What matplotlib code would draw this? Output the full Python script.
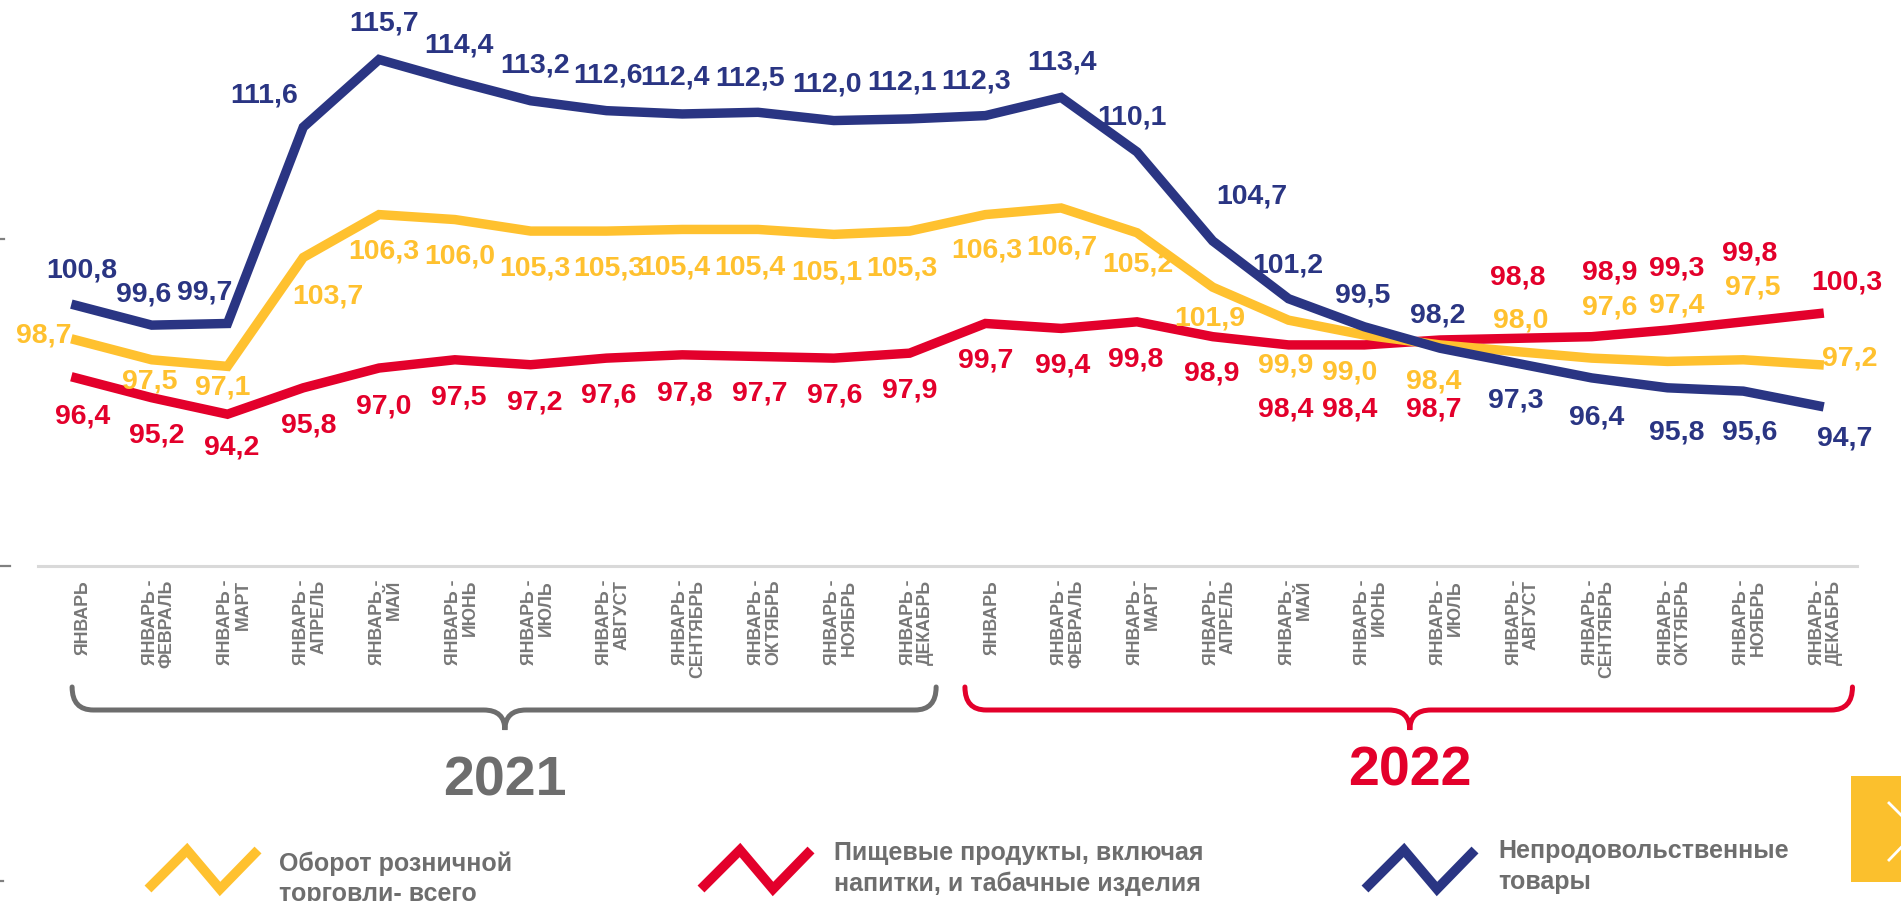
import matplotlib
matplotlib.use("Agg")
from matplotlib import pyplot as plt
from matplotlib import font_manager
from matplotlib.path import Path
from matplotlib.patches import PathPatch, Rectangle
from matplotlib.lines import Line2D
from matplotlib.transforms import blended_transform_factory, ScaledTranslation

# Data #
months = ["ЯНВАРЬ", "ЯНВАРЬ -\nФЕВРАЛЬ", "ЯНВАРЬ -\nМАРТ", "ЯНВАРЬ -\nАПРЕЛЬ",
          "ЯНВАРЬ -\nМАЙ", "ЯНВАРЬ -\nИЮНЬ", "ЯНВАРЬ -\nИЮЛЬ", "ЯНВАРЬ -\nАВГУСТ",
          "ЯНВАРЬ -\nСЕНТЯБРЬ", "ЯНВАРЬ -\nОКТЯБРЬ", "ЯНВАРЬ -\nНОЯБРЬ", "ЯНВАРЬ -\nДЕКАБРЬ"]
periods = months * 2
years = ["2021", "2022"]

retail = [98.7, 97.5, 97.1, 103.7, 106.3, 106.0, 105.3, 105.3, 105.4, 105.4, 105.1, 105.3,
          106.3, 106.7, 105.2, 101.9, 99.9, 99.0, 98.4, 98.0, 97.6, 97.4, 97.5, 97.2]
food = [96.4, 95.2, 94.2, 95.8, 97.0, 97.5, 97.2, 97.6, 97.8, 97.7, 97.6, 97.9,
        99.7, 99.4, 99.8, 98.9, 98.4, 98.4, 98.7, 98.8, 98.9, 99.3, 99.8, 100.3]
nonfood = [100.8, 99.6, 99.7, 111.6, 115.7, 114.4, 113.2, 112.6, 112.4, 112.5, 112.0, 112.1,
           112.3, 113.4, 110.1, 104.7, 101.2, 99.5, 98.2, 97.3, 96.4, 95.8, 95.6, 94.7]

legend_names = ["Оборот розничной\nторговли- всего",
                "Пищевые продукты, включая\nнапитки, и табачные изделия",
                "Непродовольственные\nтовары"]

# Label offsets from the point, in pixels (dx right, dy down)
retail_off = [(-32, -4), (-2, 22), (-5, 21), (25, 39), (5, 37), (5, 37), (4, 37), (2, 37),
              (-7, 38), (-8, 38), (-7, 38), (-8, 37), (1, 36), (1, 40), (1, 32), (-3, 31),
              (-3, 45), (-15, 37), (-6, 37), (5, -31), (18, -51), (9, -56), (9, -72), (31, -6)]
food_off = [(7, 39), (5, 38), (4, 33), (5, 38), (5, 38), (4, 38), (4, 38), (2, 37),
            (3, 39), (2, 37), (1, 37), (0, 37), (0, 37), (1, 37), (-1, 38), (-1, 37),
            (-3, 65), (-15, 65), (-6, 70), (2, -61), (18, -64), (9, -62), (6, -68), (28, -31)]
nonfood_off = [(6, -35), (-8, -31), (-23, -31), (-39, -32), (5, -36), (4, -35), (4, -35), (2, -35),
               (-7, -36), (-8, -34), (-7, -36), (-8, -36), (-9, -34), (1, -35), (-5, -34), (39, -44),
               (-1, -33), (-2, -31), (-2, -33), (0, 37), (5, 40), (9, 45), (6, 41), (26, 33)]

# Styles #
YELLOW = "#ffc12f"
RED = "#e3002b"
BLUE = "#2a3583"
GRAY = "#6e6e6e"
W, H = 1901, 901

names = {f.name for f in font_manager.fontManager.ttflist}
narrow = "Liberation Sans Narrow" if "Liberation Sans Narrow" in names else "Liberation Sans"
plt.rcParams["font.family"] = ["Liberation Sans", "DejaVu Sans"]


def fx(px):
    return px / W


def fy(py):
    return 1 - py / H


fig = plt.figure(figsize=(W / 100, H / 100), dpi=100)
ax = fig.add_axes([fx(38), fy(566), fx(1857) - fx(38), fy(0) - fy(566)])

x = list(range(len(periods)))
series = [(food, RED, food_off), (retail, YELLOW, retail_off), (nonfood, BLUE, nonfood_off)]
for z, (vals, col, offs) in enumerate(series):
    ax.plot(x, vals, color=col, lw=6.8, solid_joinstyle="miter", zorder=2 + z)
    for xi, v, (dx, dy) in zip(x, vals, offs):
        ax.annotate(f"{v:.1f}".replace(".", ","), (xi, v), xytext=(dx * 0.72, -dy * 0.72),
                    textcoords="offset points", ha="center", va="center",
                    fontsize=20.5, fontweight="bold", color=col, zorder=6)

ax.set_xlim(-0.5, len(periods) - 0.5)
ax.set_ylim(85, 100.8 + 305 / 16.48)
for s in ["top", "left", "right"]:
    ax.spines[s].set_visible(False)
ax.spines["bottom"].set_color("#d9d9d9")
ax.spines["bottom"].set_linewidth(2.2)
ax.set_yticks([])
ax.set_xticks(x)
ax.set_xticklabels(periods, rotation=90, fontsize=12.8, fontweight="bold",
                   color="#777777", linespacing=1.0)
ax.tick_params(axis="x", length=0, pad=10)
shift = ScaledTranslation(7 / 100, 0, fig.dpi_scale_trans)
for lbl in ax.get_xticklabels():
    lbl.set_multialignment("right")
    lbl.set_transform(lbl.get_transform() + shift)

# Year braces #
btr = blended_transform_factory(ax.transData, fig.transFigure)
braces = [(-0.05, 11.35, 5.66, "#6d6d6d"), (11.73, 23.44, 17.6, RED)]
rx = 0.28
ytop, ymid, ybot = fy(687), fy(710), fy(730)
for (x0, x1, xc, col), yr, ty in zip(braces, years, [781, 772]):
    verts = [(x0, ytop), (x0, ymid), (x0 + rx, ymid), (xc - rx, ymid), (xc, ymid), (xc, ybot),
             (xc, ymid), (xc + rx, ymid), (x1 - rx, ymid), (x1, ymid), (x1, ytop)]
    codes = [Path.MOVETO, Path.CURVE3, Path.CURVE3, Path.LINETO, Path.CURVE3, Path.CURVE3,
             Path.CURVE3, Path.CURVE3, Path.LINETO, Path.CURVE3, Path.CURVE3]
    fig.patches.append(PathPatch(Path(verts, codes), transform=btr, fill=False,
                                 edgecolor=col, lw=3.6, capstyle="round"))
    fig.text(btr.transform((xc, 0))[0] / W, fy(ty), yr, ha="center", va="center",
             fontsize=40, fontweight="bold", color=col, family=[narrow, "Liberation Sans"])

# Legend #
icon_x = [148, 701, 1365]
text_x = [279, 834, 1498]
text_top = [851, 841, 839]
for ix, tx, tt, col, name in zip(icon_x, text_x, text_top, [YELLOW, RED, BLUE], legend_names):
    xs = [fx(ix + d) for d in (0, 39, 72, 110)]
    ys = [fy(d) for d in (889, 850, 889, 850)]
    fig.add_artist(Line2D(xs, ys, color=col, lw=7, solid_joinstyle="miter",
                          solid_capstyle="butt", transform=fig.transFigure))
    fig.text(fx(tx), fy(tt), name, ha="left", va="top", fontsize=18, fontweight="bold",
             color=GRAY, linespacing=1.35)

# Slide leftovers: edge ticks and the "next" button #
for py, ln in [(239, 4), (566, 10), (881, 3)]:
    fig.add_artist(Line2D([0, fx(ln)], [fy(py), fy(py)], color="#808080", lw=1.6,
                          transform=fig.transFigure))
fig.patches.append(Rectangle((fx(1851), fy(882)), fx(50), 106 / H, transform=fig.transFigure,
                             facecolor="#fbc02d", edgecolor="none"))
fig.add_artist(Line2D([fx(1889), fx(1917), fx(1889)], [fy(803), fy(831), fy(860)],
                      color="white", lw=2, transform=fig.transFigure))

fig.savefig("out.png", dpi=100)
